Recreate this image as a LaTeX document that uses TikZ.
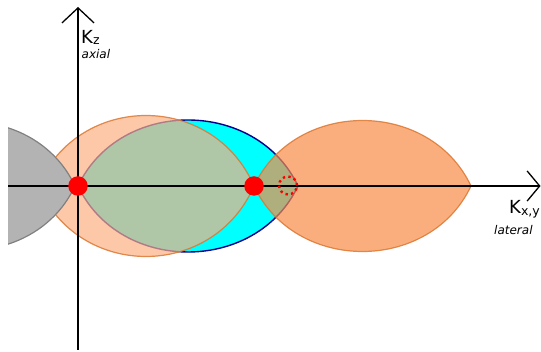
\documentclass[tikz,border=0pt]{standalone}
\usepackage{fontspec}
\setmainfont{DejaVu Sans}[ItalicFont={DejaVu Sans Oblique}]
\usetikzlibrary{arrows.meta}
\definecolor{cyanfill}{RGB}{0,255,255}
\definecolor{peachA}{RGB}{251,176,131}
\definecolor{peachB}{RGB}{250,140,70}
\definecolor{orangeline}{RGB}{220,120,50}
\definecolor{grayfill}{RGB}{179,179,179}
\definecolor{grayline}{RGB}{128,128,128}
\definecolor{navyline}{RGB}{0,0,140}
\definecolor{reddot}{RGB}{255,0,0}
\tikzset{
  lensp/.style n args={3}{insert path={
    ({#1-#2},186) .. controls ({#1-0.62*#2},{186-1.3333*#3}) and ({#1+0.62*#2},{186-1.3333*#3}) .. ({#1+#2},186)
    .. controls ({#1+0.62*#2},{186+1.3333*#3}) and ({#1-0.62*#2},{186+1.3333*#3}) .. cycle}},
  peachlens/.style={fill opacity=0.7, draw opacity=0.85, draw=orangeline, line width=1.2pt},
  axisline/.style={line width=1.3pt, black},
  dotnode/.style={circle, fill=reddot, minimum size=19.5pt, inner sep=0pt},
  dottedring/.style={circle, draw=reddot, line width=2.4pt, dash pattern=on 2.4pt off 3.25pt, minimum size=18pt, inner sep=0pt},
  lbl/.style={anchor=base west, inner sep=0pt, font=\fontsize{18}{18}\selectfont},
  sublbl/.style={anchor=base west, inner sep=0pt, font=\itshape\fontsize{12}{12}\selectfont}
}
\begin{document}
\begin{tikzpicture}[x=1pt,y=-1pt]
\useasboundingbox (0,0) rectangle (541,352);
% cyan lens
\path[fill=cyanfill, draw=navyline, line width=1.4pt, lensp={188}{110}{66}];
% peach lens A
\path[peachlens, fill=peachA, lensp={146}{108}{70.5}];
% peach lens B
\path[peachlens, fill=peachB, lensp={362.5}{108.5}{65.5}];
% gray lens (cut at left)
\begin{scope}
\clip (8,0) rectangle (541,352);
\path[fill=grayfill, draw=grayline, line width=1.2pt, lensp={-31}{106}{64.3}];
\end{scope}
% axes
\coordinate (zbot) at (78,350);
\coordinate (ztop) at (78,7);
\coordinate (xleft) at (8,186);
\coordinate (xright) at (540.5,186);
\draw[axisline, -{Straight Barb[length=15pt,width=32pt]}] (zbot) -- (ztop);
\draw[axisline, -{Straight Barb[length=12.5pt,width=30pt]}] (xleft) -- (xright);
% points
\node[dotnode] (p0) at (78,186) {};
\node[dotnode] (p1) at (254,186) {};
\node[dottedring] (p2) at (288,185.5) {};
% labels
\node[lbl] (kz) at (81,43.5) {K\raisebox{-1pt}{\fontsize{12.5}{12.5}\selectfont z}};
\node[sublbl] (axial) at (81.5,59) {axial};
\node[lbl] (kxy) at (509,214) {K\raisebox{-2pt}{\fontsize{12.5}{12.5}\selectfont x,y}};
\node[sublbl] (lateral) at (494,235) {lateral};
\end{tikzpicture}
\end{document}
